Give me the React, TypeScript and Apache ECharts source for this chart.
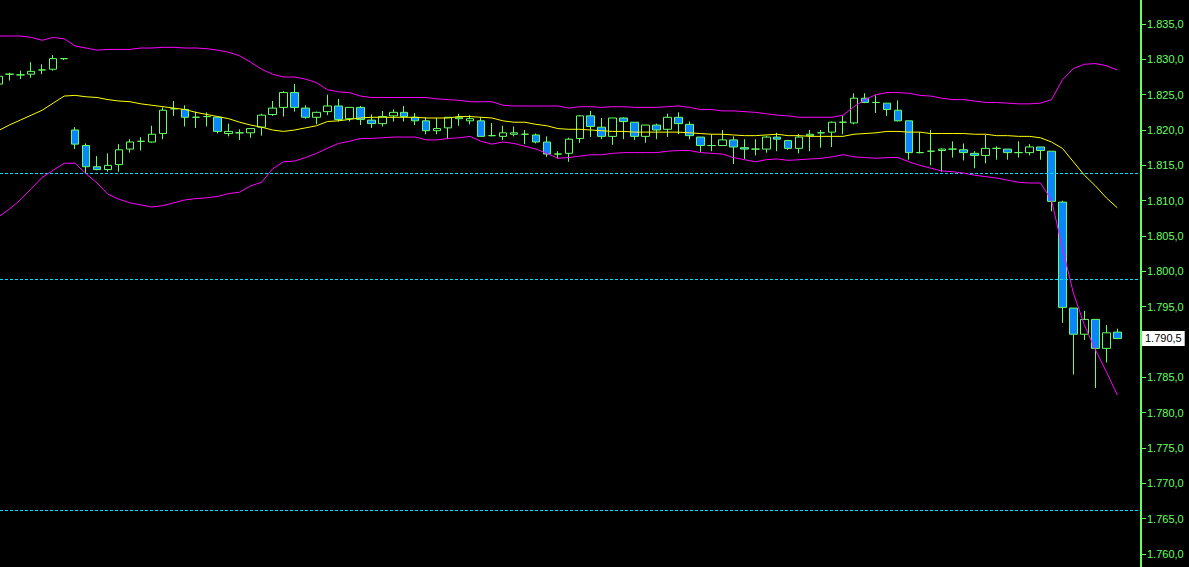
import React, { useEffect, useRef } from "react";
import * as echarts from "echarts";

// Bars are numbered from -1 (partly cut off at the left edge) to 101.
const opens = [
  1826.5, 1827.9, 1827.8, 1827.9, 1828.5, 1828.6, 1830.1, 1820.0, 1817.8, 1814.8,
  1814.4, 1815.1, 1817.3, 1818.4, 1818.3, 1819.5, 1823.0, 1822.9, 1821.8, 1821.9,
  1821.8, 1819.5, 1819.6, 1819.6, 1820.4, 1822.2, 1823.2, 1825.3, 1823.1, 1821.8,
  1822.6, 1823.4, 1821.6, 1823.2, 1821.4, 1820.9, 1822.0, 1822.5, 1821.8, 1821.3,
  1819.9, 1820.3, 1821.6, 1821.3, 1821.3, 1819.2, 1819.1, 1819.4, 1819.4, 1819.3,
  1818.3, 1816.6, 1816.7, 1818.8, 1822.0, 1820.4, 1819.1, 1821.7, 1821.1, 1819.1,
  1820.7, 1820.1, 1821.8, 1820.8, 1819.0, 1817.8, 1817.8, 1818.6, 1817.5, 1817.3,
  1817.3, 1819.0, 1818.5, 1817.4, 1819.2, 1819.6, 1819.7, 1821.1, 1821.0, 1824.5,
  1823.9, 1823.8, 1822.8, 1821.3, 1816.8, 1817.0, 1817.1, 1817.3, 1817.2, 1816.7,
  1816.4, 1817.4, 1817.3, 1816.8, 1816.8, 1817.6, 1817.0, 1809.8, 1794.8, 1791.1,
  1793.2, 1789.1, 1791.4,
];
const closes = [
  1827.6, 1827.9, 1827.8, 1828.3, 1828.5, 1830.1, 1830.1, 1818.0, 1814.8, 1814.4,
  1815.0, 1817.2, 1818.3, 1818.4, 1819.4, 1822.8, 1823.0, 1821.8, 1821.8, 1821.9,
  1819.8, 1819.8, 1819.6, 1820.2, 1822.1, 1823.1, 1825.3, 1823.2, 1821.8, 1822.5,
  1823.4, 1821.5, 1823.2, 1821.5, 1820.9, 1821.9, 1822.5, 1821.9, 1821.3, 1819.9,
  1820.2, 1821.8, 1821.8, 1821.6, 1819.1, 1819.2, 1819.6, 1819.6, 1819.4, 1818.3,
  1816.6, 1816.6, 1818.7, 1822.0, 1820.5, 1819.1, 1821.7, 1821.2, 1819.1, 1820.7,
  1820.0, 1821.8, 1820.9, 1819.2, 1817.8, 1817.8, 1818.6, 1817.6, 1817.3, 1817.3,
  1819.0, 1818.7, 1817.4, 1819.0, 1819.4, 1819.6, 1821.1, 1821.1, 1824.5, 1823.9,
  1823.9, 1822.9, 1821.3, 1816.8, 1816.8, 1817.0, 1817.3, 1817.3, 1816.8, 1816.4,
  1817.4, 1817.4, 1816.8, 1816.8, 1817.6, 1817.1, 1809.9, 1794.9, 1791.1, 1793.2,
  1789.1, 1791.3, 1790.5,
];
const lows = [
  1826.3, 1827.0, 1827.2, 1827.4, 1827.9, 1828.4, 1829.9, 1817.3, 1813.9, 1814.3,
  1814.1, 1814.1, 1816.8, 1817.1, 1818.2, 1818.7, 1822.0, 1820.5, 1820.3, 1820.5,
  1819.5, 1819.1, 1818.6, 1818.9, 1819.2, 1822.0, 1821.9, 1822.6, 1821.6, 1820.8,
  1822.1, 1821.2, 1821.2, 1820.7, 1820.3, 1820.5, 1821.2, 1821.2, 1820.7, 1819.4,
  1819.4, 1818.7, 1820.6, 1820.8, 1819.1, 1819.1, 1818.6, 1819.1, 1818.0, 1818.1,
  1816.2, 1816.0, 1815.5, 1818.2, 1819.0, 1818.7, 1817.9, 1818.7, 1818.6, 1818.2,
  1818.7, 1819.0, 1819.4, 1818.7, 1816.9, 1817.0, 1817.8, 1815.2, 1815.9, 1816.4,
  1816.8, 1817.0, 1817.2, 1816.7, 1817.0, 1817.5, 1817.6, 1819.4, 1820.8, 1823.8,
  1822.4, 1822.0, 1821.2, 1815.8, 1816.7, 1815.0, 1814.1, 1816.1, 1815.7, 1814.6,
  1815.3, 1815.8, 1815.8, 1816.1, 1816.4, 1815.8, 1808.5, 1792.7, 1785.4, 1790.3,
  1783.5, 1787.1, 1790.4,
];
const highs = [
  1827.8, 1828.1, 1828.4, 1829.6, 1829.3, 1830.6, 1830.2, 1820.4, 1818.1, 1816.3,
  1816.7, 1818.0, 1818.7, 1819.0, 1820.6, 1823.2, 1824.1, 1823.5, 1822.6, 1822.5,
  1821.8, 1820.9, 1820.1, 1820.2, 1822.3, 1824.1, 1825.5, 1826.5, 1823.5, 1822.6,
  1825.0, 1824.4, 1823.2, 1823.4, 1822.2, 1822.7, 1822.9, 1823.4, 1822.4, 1821.8,
  1821.7, 1821.8, 1822.3, 1822.1, 1821.8, 1821.0, 1820.6, 1820.5, 1820.0, 1819.5,
  1819.1, 1817.0, 1818.9, 1822.1, 1822.7, 1821.7, 1821.7, 1821.8, 1821.1, 1820.7,
  1820.9, 1822.3, 1822.5, 1821.2, 1819.0, 1819.4, 1820.0, 1819.1, 1818.7, 1818.7,
  1819.2, 1819.6, 1818.6, 1819.4, 1820.0, 1820.0, 1821.2, 1822.0, 1825.2, 1825.2,
  1824.9, 1823.8, 1824.2, 1821.3, 1819.7, 1820.0, 1817.4, 1818.4, 1818.1, 1817.0,
  1819.3, 1817.7, 1817.3, 1818.4, 1818.0, 1817.6, 1817.0, 1810.0, 1794.8, 1794.4,
  1793.2, 1792.4, 1791.9,
];

const upperBand = [
  1833.3, 1833.3, 1833.3, 1833.1, 1832.7, 1833.1, 1832.9, 1831.9, 1831.6, 1831.3,
  1831.4, 1831.4, 1831.4, 1831.6, 1831.6, 1831.7, 1831.7, 1831.6, 1831.6, 1831.5,
  1831.3, 1831.0, 1830.5, 1829.6, 1828.6, 1827.9, 1827.5, 1827.5, 1827.2, 1826.7,
  1825.7, 1825.4, 1825.3, 1824.8, 1824.6, 1824.6, 1824.6, 1824.6, 1824.6, 1824.6,
  1824.4, 1824.3, 1824.2, 1824.0, 1824.0, 1824.0, 1823.5, 1823.4, 1823.4, 1823.4,
  1823.4, 1823.4, 1823.1, 1823.3, 1823.3, 1823.2, 1823.3, 1823.3, 1823.2, 1823.2,
  1823.2, 1823.3, 1823.4, 1823.2, 1822.9, 1822.9, 1822.7, 1822.7, 1822.6, 1822.5,
  1822.3, 1822.1, 1822.0, 1821.8, 1821.8, 1821.8, 1821.8, 1822.1, 1823.3, 1824.3,
  1825.0, 1825.3, 1825.3, 1825.2, 1824.9, 1824.8, 1824.5, 1824.3, 1824.3, 1824.1,
  1823.9, 1823.9, 1823.8, 1823.7, 1823.7, 1823.8, 1824.3, 1827.1, 1828.7, 1829.3,
  1829.4, 1829.1, 1828.5,
];
const middleBand = [
  1819.9, 1820.7, 1821.4, 1822.1, 1822.8, 1823.8, 1824.8, 1824.9, 1824.7, 1824.6,
  1824.3, 1824.1, 1824.0, 1823.7, 1823.5, 1823.3, 1823.1, 1822.9, 1822.5, 1822.2,
  1821.9, 1821.6, 1821.1, 1820.7, 1820.4, 1820.0, 1819.8, 1820.0, 1820.3, 1820.6,
  1821.2, 1821.3, 1821.5, 1821.7, 1821.8, 1821.8, 1821.8, 1821.8, 1821.8, 1821.7,
  1821.7, 1821.7, 1821.9, 1821.9, 1821.8, 1821.7, 1821.3, 1821.1, 1821.1, 1820.8,
  1820.6, 1820.2, 1820.1, 1820.1, 1820.0, 1819.9, 1819.8, 1819.8, 1819.7, 1819.7,
  1819.7, 1819.7, 1819.7, 1819.6, 1819.5, 1819.4, 1819.4, 1819.3, 1819.2, 1819.2,
  1819.3, 1819.4, 1819.2, 1819.2, 1819.1, 1819.1, 1819.1, 1819.1, 1819.4, 1819.5,
  1819.6, 1819.8, 1819.8, 1819.7, 1819.7, 1819.5, 1819.5, 1819.5, 1819.5, 1819.4,
  1819.4, 1819.2, 1819.2, 1819.1, 1819.1, 1818.9, 1818.3, 1817.4, 1815.5, 1813.6,
  1812.1, 1810.4, 1809.0,
];
const lowerBand = [
  1807.7, 1808.8, 1810.1, 1811.7, 1813.3, 1814.3, 1815.3, 1815.3, 1813.8, 1812.5,
  1810.9, 1810.2, 1809.7, 1809.4, 1809.1, 1809.3, 1809.7, 1810.1, 1810.3, 1810.4,
  1810.6, 1811.0, 1811.2, 1812.1, 1812.6, 1814.5, 1815.5, 1815.6, 1816.1, 1816.7,
  1817.4, 1818.1, 1818.4, 1818.8, 1818.8, 1818.9, 1819.0, 1819.0, 1819.0, 1818.6,
  1818.6, 1818.8, 1818.9, 1819.1, 1818.4, 1818.0, 1818.3, 1818.1, 1817.7, 1817.3,
  1816.7, 1816.0, 1816.1, 1816.3, 1816.5, 1816.5, 1816.7, 1816.8, 1816.8, 1816.8,
  1816.8, 1817.0, 1817.1, 1817.1, 1816.8, 1816.7, 1816.6, 1816.1, 1815.8, 1815.5,
  1815.8, 1815.9, 1815.7, 1815.8, 1815.9, 1816.0, 1816.2, 1816.5, 1816.2, 1816.1,
  1816.0, 1816.1, 1816.1, 1815.5, 1815.0, 1814.6, 1814.2, 1814.1, 1813.9, 1813.6,
  1813.4, 1813.2, 1812.9, 1812.6, 1812.5, 1812.5, 1810.1, 1803.3, 1796.9, 1792.4,
  1788.9, 1785.8, 1782.5,
];

const levelLines = [1813.9, 1798.9, 1766.2];
const lastPrice = 1790.5;
const hiddenTick = 1790; // covered by the last-price box in the reference
const firstBar = -1;
const yMin = 1755;
const yMax = 1840;
const yStep = 5;

const GREEN = "#66ff66";
const BLUE = "#0a84ff";
const MAGENTA = "#ff00ff";
const YELLOW = "#ffff00";
const CYAN = "#00e5ff";
const FONT = "Liberation Sans, Arial, sans-serif";

function fmt(v: number, d: number): string {
  const s = v.toFixed(d);
  const [ip, dp] = s.split(".");
  const withSep = ip.replace(/\B(?=(\d{3})+(?!\d))/g, ".");
  return dp !== undefined ? withSep + "," + dp : withSep;
}

export default function App() {
  const ref = useRef<HTMLDivElement>(null);
  useEffect(() => {
    if (!ref.current) return;
    const chart = echarts.init(ref.current, null, { renderer: "svg" });
    const candles = opens.map((o, k) => [k + firstBar, o, closes[k], lows[k], highs[k]]);
    const toLine = (arr: number[]) => arr.map((v, k) => [k + firstBar, v]);

    const lineSeries = (name: string, arr: number[], color: string) => ({
      name,
      type: "line",
      data: toLine(arr),
      showSymbol: false,
      symbol: "none",
      silent: true,
      z: 5,
      lineStyle: { color, width: 1 },
    });

    chart.setOption({
      animation: false,
      backgroundColor: "#000000",
      grid: {
        left: 0,
        right: 48,
        top: -11.333,
        bottom: -22.333,
        containLabel: false,
        outerBoundsMode: "none",
      },
      xAxis: {
        type: "value",
        min: -0.848,
        max: 103.16,
        show: false,
      },
      yAxis: {
        type: "value",
        position: "right",
        min: yMin,
        max: yMax,
        interval: yStep,
        axisLine: { show: true, onZero: false, lineStyle: { color: GREEN, width: 2 } },
        axisTick: { show: true, length: 5, lineStyle: { color: GREEN, width: 1 } },
        splitLine: { show: false },
        axisLabel: {
          color: GREEN,
          fontSize: 11,
          fontFamily: FONT,
          margin: 6,
          showMinLabel: false,
          showMaxLabel: false,
          formatter: (v: number) => (Math.abs(v - hiddenTick) < 1e-6 ? "" : fmt(v, 1)),
        },
      },
      series: [
        {
          name: "price",
          type: "candlestick",
          data: candles,
          barWidth: 8,
          z: 3,
          itemStyle: {
            color: "#000000",
            color0: BLUE,
            borderColor: GREEN,
            borderColor0: GREEN,
            borderWidth: 1,
          },
          markLine: {
            silent: true,
            symbol: ["none", "none"],
            animation: false,
            data: levelLines.map((v) => ({
              yAxis: v,
              lineStyle: { color: CYAN, width: 1, type: [3, 2] },
              label: { show: false },
            })),
          },
        },
        lineSeries("upper", upperBand, MAGENTA),
        lineSeries("middle", middleBand, YELLOW),
        {
          ...lineSeries("lower", lowerBand, MAGENTA),
          markLine: {
            silent: true,
            symbol: ["none", "none"],
            animation: false,
            data: [
              {
                yAxis: lastPrice,
                lineStyle: { color: "rgba(0,0,0,0)", width: 1 },
                label: {
                  show: true,
                  position: "end",
                  distance: 1,
                  formatter: fmt(lastPrice, 1),
                  color: "#000000",
                  backgroundColor: "#ffffff",
                  padding: [2, 3, 2, 3],
                  fontSize: 11,
                  fontFamily: FONT,
                },
              },
            ],
          },
        },
      ],
    });
    return () => chart.dispose();
  }, []);
  return (
    <div
      ref={ref}
      style={{ position: "fixed", left: 0, top: 0, width: 1189, height: 567 }}
    />
  );
}
